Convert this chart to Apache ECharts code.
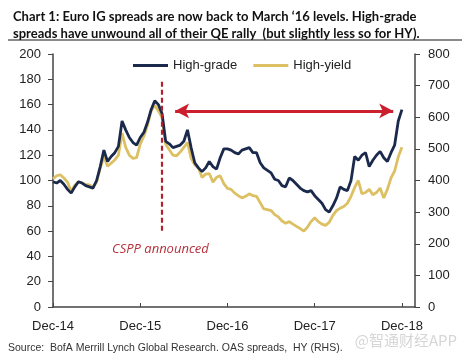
<!DOCTYPE html>
<html><head><meta charset="utf-8">
<script src="https://cdn.jsdelivr.net/npm/echarts@6/dist/echarts.min.js"></script>
<style>html,body{margin:0;padding:0;background:#fff}#c{width:467px;height:361px}</style>
</head><body><div id="c"></div>
<script>
// months since Dec-14, 0.5 month step
const months = [];
for (let i = 0; i <= 96; i++) months.push(i / 2);
const highGrade = [99,98,100,97,93,90,95,99,98,96,95,94,100,111,124,115,119,122,127,147,140,134,130,128,134,138,146,156,163,160,153,131,129,126,127,128,131,140,126,114,110,107,110,115,111,109,118,125,125,124,122,121,124,125,126,122,122,114,110,108,106,101,100,96,95,102,100,97,94,92,91,92,88,85,82,77,75,80,86,95,93,92,100,119,116,120,122,111,116,120,123,118,115,122,128,147,156];
const highYield = [405,415,418,408,395,365,385,396,392,388,386,380,395,440,475,445,455,465,480,550,505,480,470,472,515,540,575,620,638,620,600,515,497,480,478,490,505,520,470,450,440,410,420,422,395,410,415,390,375,372,360,352,345,350,358,352,350,330,310,308,305,292,285,272,265,270,262,255,248,240,252,270,282,270,262,258,268,290,305,312,318,328,350,378,400,358,362,372,355,362,376,345,372,408,430,475,505];
const xTickLabels = ['Dec-14','Dec-15','Dec-16','Dec-17','Dec-18'];
const seriesNames = ['High-grade','High-yield'];
const csppMonth = 15;
const arrowFrom = 16.8, arrowTo = 46.8, arrowLevel = 155;

const chart = echarts.init(document.getElementById('c'), null, {renderer:'canvas'});
const font = 'Liberation Sans, Arial, sans-serif';
chart.setOption({
  animation: false,
  title: {
    left: 8, top: 3,
    text: 'Chart 1: Euro IG spreads are now back to March \u201816 levels. High-grade\nspreads have unwound all of their QE rally  (but slightly less so for HY).',
    textStyle: {fontFamily: 'Lato, sans-serif', fontSize: 13, fontWeight: 'bold', lineHeight: 17, color: '#111'}
  },
  legend: {
    data: seriesNames, left: 128, top: 54, itemWidth: 35, itemHeight: 3, itemGap: 16, icon: 'rect',
    textStyle: {fontFamily: font, fontSize: 13, color: '#222'}
  },
  grid: {left: 53, right: 52, top: 54, bottom: 54},
  xAxis: {
    type: 'value', min: 0, max: 49.8, interval: 12,
    axisLine: {lineStyle: {color: '#444', width: 1.5}},
    axisTick: {inside: true, length: 4, lineStyle: {color: '#444'}},
    splitLine: {show: false},
    axisLabel: {fontFamily: font, fontSize: 13, color: '#222', margin: 13, showMaxLabel: false,
      formatter: v => (v % 12 === 0 ? xTickLabels[v / 12] || '' : '')}
  },
  yAxis: [
    {type: 'value', min: 0, max: 200, interval: 20, position: 'left',
     axisLine: {show: true, lineStyle: {color: '#444', width: 1.5}},
     axisTick: {show: true, length: 5, lineStyle: {color: '#444'}},
     splitLine: {show: false},
     axisLabel: {fontFamily: font, fontSize: 13, color: '#222', margin: 12}},
    {type: 'value', min: 0, max: 800, interval: 100, position: 'right',
     axisLine: {show: true, lineStyle: {color: '#444', width: 1.5}},
     axisTick: {show: true, length: 5, lineStyle: {color: '#444'}},
     splitLine: {show: false},
     axisLabel: {fontFamily: font, fontSize: 13, color: '#222', margin: 13}}
  ],
  series: [
    {name: seriesNames[1], type: 'line', yAxisIndex: 1, showSymbol: false, symbol: 'none',
     data: months.map((m, i) => [m, highYield[i]]),
     lineStyle: {color: '#dcc063', width: 2.8}, itemStyle: {color: '#dcc063'}},
    {name: seriesNames[0], type: 'line', yAxisIndex: 0, showSymbol: false, symbol: 'none',
     data: months.map((m, i) => [m, highGrade[i]]),
     lineStyle: {color: '#1b2a4c', width: 2.8}, itemStyle: {color: '#1b2a4c'},
     markLine: {
       silent: true, animation: false,
       data: [
         [{coord: [csppMonth, 178], symbol: 'none', lineStyle: {color: '#b5202f', type: [5, 3], width: 2.2}},
          {coord: [csppMonth, 59], symbol: 'none'}],
         [{coord: [arrowFrom, arrowLevel], symbol: 'arrow', symbolSize: [11, 14], lineStyle: {color: '#cc1f2e', type: 'solid', width: 3.2}},
          {coord: [arrowTo, arrowLevel], symbol: 'arrow', symbolSize: [11, 14]}]
       ],
       label: {show: false}
     }}
  ],
  graphic: [
    {type: 'line', shape: {x1: 8, y1: 40, x2: 462, y2: 40}, style: {stroke: '#8a8a8a', lineWidth: 2}},
    {type: 'text', left: 112, top: 243, style: {text: 'CSPP announced', font: 'italic 13px "Open Sans", sans-serif', fill: '#b5303d'}},
    {type: 'text', left: 8, top: 343, style: {text: 'Source:  BofA Merrill Lynch Global Research. OAS spreads,  HY (RHS).', font: '10.5px "Liberation Sans Narrow", "Liberation Sans", sans-serif', fill: '#333'}},
    {type: 'text', right: 10, top: 333, style: {text: '@智通财经APP', font: '15px "Noto Sans CJK SC", sans-serif', fill: '#d6d6d6'}}
  ]
});
</script></body></html>
